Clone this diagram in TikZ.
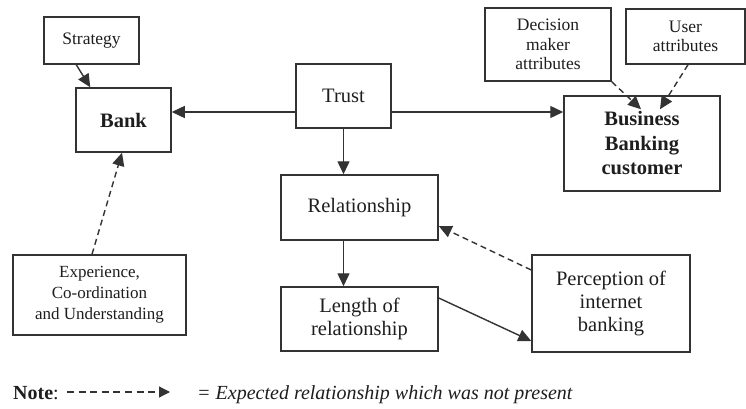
\documentclass[tikz,border=0pt]{standalone}
\usepackage{fontspec}
\setmainfont{Liberation Serif}
\usetikzlibrary{arrows.meta,calc}
\definecolor{linec}{HTML}{333333}
\definecolor{textc}{HTML}{1E1E1E}
\tikzset{
  box/.style={draw=linec, line width=1.5pt, inner sep=0pt, align=center, fill=white, text=textc},
  bigtext/.style={font=\fontsize{20.5}{23}\selectfont},
  boldtext/.style={font=\fontsize{20.5}{24.5}\selectfont\bfseries},
  smalltext/.style={font=\fontsize{17.5}{19.5}\selectfont},
  exptext/.style={font=\fontsize{17}{21}\selectfont},
  arr/.style={draw=linec, line width=1.4pt, -{Triangle[length=13pt,width=12pt]}},
  darr/.style={arr, dash pattern=on 6pt off 4pt},
}
\begin{document}
\begin{tikzpicture}[x=1pt,y=1pt]
\useasboundingbox[fill=white] (0,0) rectangle (746,408);

\node[box,smalltext,minimum width=95pt,minimum height=47pt] (strat) at (91.5,367.5) {Strategy};
\node[box,boldtext,minimum width=95pt,minimum height=64pt] (bank) at (123.5,288) {Bank};
\node[box,bigtext,minimum width=95pt,minimum height=64pt] (trust) at (343.5,312) {Trust};
\node[box,smalltext,minimum width=126pt,minimum height=73pt] (dec) at (548,363.5) {Decision\\maker\\attributes};
\node[box,smalltext,minimum width=119pt,minimum height=55pt] (user) at (685.5,371.5) {User\\attributes};
\node[box,boldtext,minimum width=156pt,minimum height=95pt] (bbc) at (642,264.5) {Business\\Banking\\customer};
\node[box,bigtext,minimum width=157pt,minimum height=65pt] (rel) at (359.5,200.5) {Relationship};
\node[box,bigtext,minimum width=157pt,minimum height=64pt] (len) at (359.5,89) {Length of\\relationship};
\node[box,bigtext,minimum width=158pt,minimum height=97pt] (perc) at (611,104.5) {Perception of\\internet\\banking};
\node[box,exptext,minimum width=173pt,minimum height=80pt] (exp) at (99.5,113) {Experience,\\Co-ordination\\and Understanding};

\coordinate (tl) at ([yshift=-16pt]trust.west);
\coordinate (tr) at ([yshift=-16pt]trust.east);

\draw[arr] ([xshift=33pt]strat.south west) -- ([xshift=15pt]bank.north west);
\draw[arr] (tl) -- (tl -| bank.east);
\draw[arr] (tr) -- (tr -| bbc.west);
\draw[arr] (trust.south) -- (trust.south |- rel.north);
\draw[arr] (trust.south |- rel.south) -- (trust.south |- len.north);
\draw[arr] ([yshift=21pt]len.east) -- ([yshift=-37.5pt]perc.west);
\draw[darr] ([yshift=33.5pt]perc.west) -- ([yshift=-18.5pt]rel.east);
\draw[darr] ([xshift=-7.5pt]exp.north) -- ([xshift=-1.5pt]bank.south);
\draw[darr] (dec.south east) -- ([shift={(-1pt,-14pt)}]bbc.north);
\draw[darr] ([xshift=2.5pt]user.south) -- ([shift={(18pt,-14pt)}]bbc.north);

\node[anchor=base west, text=textc, font=\fontsize{20}{22}\selectfont, inner sep=0pt] (note) at (13,9) {\textbf{Note}:};
\coordinate (na) at (67,16);
\coordinate (nb) at (170,16);
\draw[draw=linec, line width=1.2pt, dash pattern=on 7pt off 4.6pt, -{Triangle[length=11pt,width=11pt]}] (na) -- (nb);
\node[anchor=base west, text=textc, font=\fontsize{20}{22}\selectfont\itshape, inner sep=0pt] (expl) at (197,9) {= Expected relationship which was not present};
\end{tikzpicture}
\end{document}
